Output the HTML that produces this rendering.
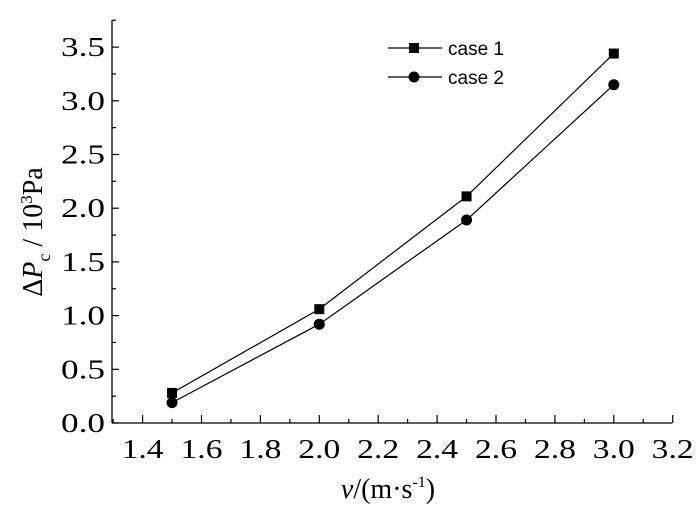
<!DOCTYPE html>
<html><head><meta charset="utf-8"><style>
html,body{margin:0;padding:0;background:#fff;}
svg{display:block;}
text{font-family:"Liberation Serif",serif;}
</style></head><body>
<svg id="chart" width="700" height="507" viewBox="0 0 700 507" xmlns="http://www.w3.org/2000/svg">
<g id="axes"></g>
<g id="series"></g>
<g id="legend">
  <line x1="388" y1="48" x2="442" y2="48" stroke="#000" stroke-width="1.2"/>
  <rect x="409" y="43" width="10" height="10" fill="#000"/>
  <text x="448" y="55" font-size="19" style="font-family:'Liberation Sans',sans-serif">case 1</text>
  <line x1="388" y1="77" x2="442" y2="77" stroke="#000" stroke-width="1.2"/>
  <circle cx="414" cy="77" r="5.5" fill="#000"/>
  <text x="448" y="84" font-size="19" style="font-family:'Liberation Sans',sans-serif">case 2</text>
</g>
<text transform="translate(42,232) rotate(-90)" text-anchor="middle" font-size="28">Δ<tspan font-style="italic">P</tspan><tspan font-size="18" dy="8">c</tspan><tspan dy="-8"> / 10</tspan><tspan font-size="17" dy="-10">3</tspan><tspan dy="10">Pa</tspan></text>
<text x="388" y="498" text-anchor="middle" font-size="28"><tspan font-style="italic">v</tspan>/(m·s<tspan font-size="16" dy="-11">-1</tspan><tspan dy="11">)</tspan></text>
</svg>
<script>
const xCategories=[1.5,2.0,2.5,3.0];
const case1Values=[0.28,1.06,2.11,3.44];
const case2Values=[0.19,0.92,1.89,3.15];
const xTickLabels=["1.4","1.6","1.8","2.0","2.2","2.4","2.6","2.8","3.0","3.2"];
const yTickLabels=["0.0","0.5","1.0","1.5","2.0","2.5","3.0","3.5"];
const NS="http://www.w3.org/2000/svg";
const X0=112,X1=672,Y0=423,YT=20;
function xs(v){return 142.6+(v-1.4)*294.5;}
function ys(v){return 423-v*107.4;}
function mk(tag,attrs,parent){const e=document.createElementNS(NS,tag);for(const k in attrs)e.setAttribute(k,attrs[k]);parent.appendChild(e);return e;}
const ax=document.getElementById('axes');
let l=mk('line',{x1:X0,y1:Y0,x2:X1,y2:Y0,stroke:'#000','stroke-width':1.3},ax);


l=mk('line',{x1:X0,y1:Y0,x2:X0,y2:YT,stroke:'#000','stroke-width':1.3},ax);


xTickLabels.forEach((t,i)=>{const v=parseFloat(t);const x=xs(v);
 mk('line',{x1:x,y1:Y0,x2:x,y2:Y0-8,stroke:'#000','stroke-width':1.2},ax);
 const mx=xs(v+0.1); if(mx<=X1) mk('line',{x1:mx,y1:Y0,x2:mx,y2:Y0-4,stroke:'#000','stroke-width':1.2},ax);
 const tx=mk('text',{x:x,y:458,'text-anchor':'middle','font-size':27,textLength:42,lengthAdjust:'spacingAndGlyphs'},ax);tx.textContent=t;
 
 
});
mk('line',{x1:xs(1.3),y1:Y0,x2:xs(1.3),y2:Y0-4,stroke:'#000','stroke-width':1.2},ax);
yTickLabels.forEach(t=>{const v=parseFloat(t);const y=ys(v);
 mk('line',{x1:X0,y1:y,x2:X0+7,y2:y,stroke:'#000','stroke-width':1.2},ax);
 const my=ys(v+0.25); if(my>=YT) mk('line',{x1:X0,y1:my,x2:X0+4,y2:my,stroke:'#000','stroke-width':1.2},ax);
 const tx=mk('text',{x:105,y:y+9,'text-anchor':'end','font-size':27,textLength:44,lengthAdjust:'spacingAndGlyphs'},ax);tx.textContent=t;
 
 
});
const sg=document.getElementById('series');
function draw(vals,shape,name){
 const pts=xCategories.map((c,i)=>xs(c)+','+ys(vals[i])).join(' ');
 const pl=mk('polyline',{points:pts,fill:'none',stroke:'#000','stroke-width':1.2},sg);
 
 
 xCategories.forEach((c,i)=>{let m;
  if(shape==='sq') m=mk('rect',{x:xs(c)-5,y:ys(vals[i])-5,width:10,height:10,fill:'#000'},sg);
  else m=mk('circle',{cx:xs(c),cy:ys(vals[i]),r:5.5,fill:'#000'},sg);
  
  
 });
}
draw(case1Values,'sq','case1');
draw(case2Values,'ci','case2');
</script>
</body></html>
